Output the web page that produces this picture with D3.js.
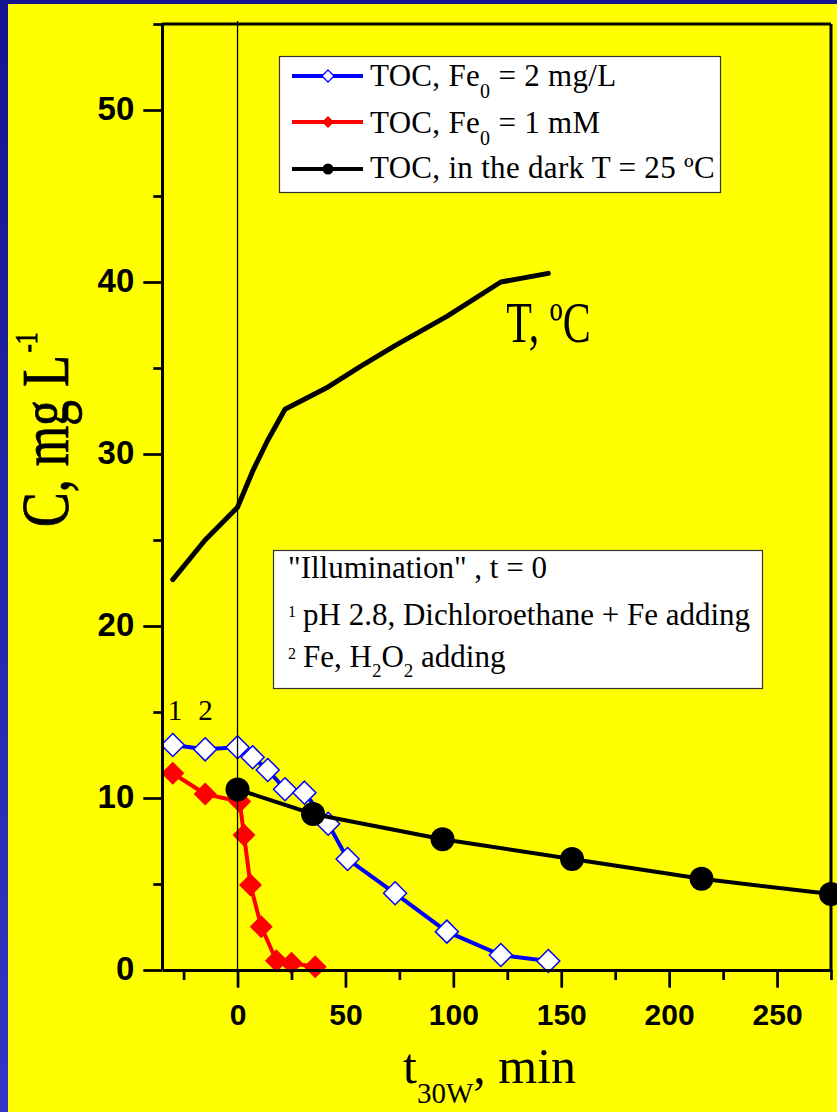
<!DOCTYPE html>
<html>
<head>
<meta charset="utf-8">
<script src="https://cdn.jsdelivr.net/npm/d3@7"></script>
<style>
  body { margin: 0; background: #fff; }
  svg { display: block; }
</style>
</head>
<body>
<svg width="837" height="1112"></svg>
<script>
const svg = d3.select('svg');
const width  = +svg.attr('width');
const height = +svg.attr('height');

// TOC, Fe0 = 2 mg/L  (open blue diamonds)
const blueTime = [-40, -30, -15, 0, 7, 14, 22, 31, 42, 51, 73, 97, 122, 144];
const blueToc  = [13.25, 13.08, 12.83, 12.95, 12.37, 11.63, 10.51, 10.31, 8.5, 6.45, 4.46, 2.23, 0.87, 0.52];

// TOC, Fe0 = 1 mM  (red diamonds)
const redTime = [-40, -30, -15, 1, 3, 6, 11, 18, 25, 36];
const redToc  = [11.5, 11.44, 10.23, 9.79, 7.85, 4.94, 2.52, 0.54, 0.39, 0.19];

// TOC in the dark, T = 25 C
const darkTime = [0, 35, 95, 155, 215, 275];
const darkToc  = [10.5, 9.07, 7.6, 6.45, 5.3, 4.42];

// temperature curve
const tempTime = [-30, -15, 0, 7, 14, 22, 42, 57, 73, 97, 122, 144];
const tempVal  = [22.7, 25.0, 26.9, 29.0, 30.8, 32.6, 33.9, 35.1, 36.3, 38.0, 40.0, 40.5];

const xTicks = [0, 50, 100, 150, 200, 250];
const xMinor = [-25, 25, 75, 125, 175, 225, 275];
const yTicks = [0, 10, 20, 30, 40, 50];
const yMinor = [5, 15, 25, 35, 45, 55];

const serif = "'Liberation Serif', 'Times New Roman', serif";
const sans  = "'Liberation Sans', Arial, sans-serif";

// background : blue frame + yellow
const grad = svg.append('defs').append('linearGradient')
  .attr('id', 'bg').attr('x1', 0).attr('y1', 0).attr('x2', 0).attr('y2', 1);
grad.append('stop').attr('offset', '0%').attr('stop-color', '#15158f');
grad.append('stop').attr('offset', '100%').attr('stop-color', '#3535c6');
svg.append('rect').attr('width', width).attr('height', height).attr('fill', 'url(#bg)');
svg.append('rect').attr('x', 8).attr('y', 4).attr('width', width - 8).attr('height', height - 4).attr('fill', '#ffff00');

//scales
const x = d3.scaleLinear().domain([-35, 275]).range([162, 831]);
const y = d3.scaleLinear().domain([0, 55]).range([970, 24]);

svg.select('defs').append('clipPath').attr('id', 'clip')
  .append('rect').attr('x', 162).attr('y', 0).attr('width', width - 162).attr('height', height);

const diamond = r => `M0,${-r}L${r},0L0,${r}L${-r},0Z`;
const line = d3.line().x(d => x(d[0])).y(d => y(d[1]));

const plot = svg.append('g').attr('clip-path', 'url(#clip)');

// T curve
plot.append('path').datum(d3.zip(tempTime, tempVal))
  .attr('d', line).attr('fill', 'none').attr('stroke', '#000')
  .attr('stroke-width', 5).attr('stroke-linecap', 'round').attr('stroke-linejoin', 'round');

// blue
const blue = d3.zip(blueTime, blueToc);
plot.append('path').datum(blue).attr('d', line)
  .attr('fill', 'none').attr('stroke', '#0000ff').attr('stroke-width', 4);
plot.selectAll('.blue').data(blue).enter().append('path')
  .attr('class', 'blue')
  .attr('transform', d => `translate(${x(d[0])},${y(d[1])})`)
  .attr('d', diamond(11.5)).attr('fill', '#fff').attr('stroke', '#0000ff').attr('stroke-width', 1.5);

// red
const red = d3.zip(redTime, redToc);
plot.append('path').datum(red).attr('d', line)
  .attr('fill', 'none').attr('stroke', '#ff0000').attr('stroke-width', 4);
plot.selectAll('.red').data(red).enter().append('path')
  .attr('class', 'red')
  .attr('transform', d => `translate(${x(d[0])},${y(d[1])})`)
  .attr('d', diamond(11.5)).attr('fill', '#ff0000');

// dark
const dark = d3.zip(darkTime, darkToc);
plot.append('path').datum(dark).attr('d', line)
  .attr('fill', 'none').attr('stroke', '#000').attr('stroke-width', 4);
plot.selectAll('.dark').data(dark).enter().append('circle')
  .attr('cx', d => x(d[0])).attr('cy', d => y(d[1])).attr('r', 12).attr('fill', '#000');

// t = 0 line
svg.append('line')
  .attr('x1', x(0)).attr('x2', x(0)).attr('y1', y(55) - 3).attr('y2', y(0))
  .attr('stroke', '#000').attr('stroke-width', 1.3);

// axes
const styleAxis = (sel, size) => {
  sel.select('.domain').attr('stroke-width', 3);
  sel.selectAll('.tick line').attr('stroke-width', 2.7);
  sel.selectAll('.tick text').attr('font-family', sans).attr('font-weight', 'bold')
    .attr('font-size', size).attr('fill', '#000');
};

svg.append('g').attr('transform', `translate(0,${y(0)})`)
  .call(d3.axisBottom(x).tickValues(xMinor).tickSize(10).tickFormat(''))
  .call(s => s.select('.domain').remove())
  .call(s => s.selectAll('.tick line').attr('stroke-width', 2.7));
svg.append('g').attr('transform', `translate(${x(-35)},0)`)
  .call(d3.axisLeft(y).tickValues(yMinor).tickSize(8.7).tickFormat(''))
  .call(s => s.select('.domain').remove())
  .call(s => s.selectAll('.tick line').attr('stroke-width', 2.7));

svg.append('g').attr('transform', `translate(0,${y(0)})`)
  .call(d3.axisBottom(x).tickValues(xTicks).tickSize(17.7).tickSizeOuter(0).tickPadding(16))
  .call(s => styleAxis(s, 30));
svg.append('g').attr('transform', `translate(${x(-35)},0)`)
  .call(d3.axisLeft(y).tickValues(yTicks).tickSize(18.7).tickSizeOuter(0).tickPadding(9))
  .call(s => styleAxis(s, 33))
  .call(s => s.selectAll('.tick text').attr('dy', '0.29em'));

// frame top + right
svg.append('line').attr('x1', x(-35)).attr('x2', x(275)).attr('y1', y(55)).attr('y2', y(55))
  .attr('stroke', '#000').attr('stroke-width', 3);
svg.append('line').attr('x1', x(275)).attr('x2', x(275)).attr('y1', y(55)).attr('y2', y(0))
  .attr('stroke', '#000').attr('stroke-width', 3);

// axis titles
const xt = svg.append('text').attr('x', 403).attr('y', 1083)
  .attr('font-family', serif).attr('font-size', 50).attr('fill', '#000');
xt.append('tspan').text('t');
xt.append('tspan').attr('font-size', 29).attr('dy', 20).text('30W');
xt.append('tspan').attr('dy', -20).text(', min');

const yt = svg.append('text').attr('transform', 'translate(68,527) rotate(-90) scale(1,1.3)')
  .attr('font-family', serif).attr('font-size', 52).attr('fill', '#000')
  .attr('stroke', '#000').attr('stroke-width', 0.6);
yt.append('tspan').text('C, mg L');
yt.append('tspan').attr('font-size', 24).attr('dy', -24).attr('dx', 3).text('-1');

// T label
svg.append('text').attr('transform', `translate(${x(124.5)},${y(36.5)}) scale(1,1.35)`)
  .attr('font-family', serif).attr('font-size', 42).attr('fill', '#000')
  .text('T, ºC');

// 1, 2 marks
const marks = ['1', '2'];
const markTime = [-29, -14.8];
svg.selectAll('.mark').data(marks).enter().append('text')
  .attr('x', (d, i) => x(markTime[i])).attr('y', y(14.56))
  .attr('text-anchor', 'middle')
  .attr('font-family', serif).attr('font-size', 29).attr('fill', '#000')
  .text(d => d);

// legend
const leg = svg.append('g');
leg.append('rect').attr('x', 279.5).attr('y', 56.5).attr('width', 441).attr('height', 136)
  .attr('fill', '#fff').attr('stroke', '#333').attr('stroke-width', 1.2);

const legRows = [76, 122, 169];
const legColor = ['#0000ff', '#ff0000', '#000'];
legRows.forEach((ry, i) => {
  leg.append('line').attr('x1', 292).attr('x2', 363).attr('y1', ry).attr('y2', ry)
    .attr('stroke', legColor[i]).attr('stroke-width', 4);
});
leg.append('path').attr('transform', `translate(328,${legRows[0]})`).attr('d', diamond(6))
  .attr('fill', '#fff').attr('stroke', '#0000ff').attr('stroke-width', 1.3);
leg.append('path').attr('transform', `translate(328,${legRows[1]})`).attr('d', diamond(6))
  .attr('fill', '#ff0000');
leg.append('circle').attr('cx', 328).attr('cy', legRows[2]).attr('r', 5.5).attr('fill', '#000');

const legText = (yy) => leg.append('text').attr('x', 370).attr('y', yy)
  .attr('font-family', serif).attr('font-size', 31).attr('letter-spacing', 0.3).attr('fill', '#000');
let t1 = legText(86);
t1.append('tspan').text('TOC, Fe');
t1.append('tspan').attr('font-size', 20).attr('dy', 12).text('0');
t1.append('tspan').attr('dy', -12).text(' = 2 mg/L');
let t2 = legText(133);
t2.append('tspan').text('TOC, Fe');
t2.append('tspan').attr('font-size', 20).attr('dy', 12).text('0');
t2.append('tspan').attr('dy', -12).text(' = 1 mM');
legText(178).text('TOC, in the dark T = 25 ºC');

// note box
const note = svg.append('g');
note.append('rect').attr('x', 273.5).attr('y', 550.5).attr('width', 489).attr('height', 138)
  .attr('fill', '#fff').attr('stroke', '#333').attr('stroke-width', 1.2);
const noteText = (xx, yy, fs) => note.append('text').attr('x', xx).attr('y', yy)
  .attr('font-family', serif).attr('font-size', fs).attr('fill', '#000');

noteText(288, 578, 31).text('"Illumination" , t = 0');
noteText(288, 617, 16).text('1');
noteText(303, 625, 31).text('pH 2.8, Dichloroethane + Fe adding');
noteText(288, 659, 16).text('2');
let n3 = noteText(303, 667, 31);
n3.append('tspan').text('Fe, H');
n3.append('tspan').attr('font-size', 19).attr('dy', 10).text('2');
n3.append('tspan').attr('dy', -10).text('O');
n3.append('tspan').attr('font-size', 19).attr('dy', 10).text('2');
n3.append('tspan').attr('dy', -10).text(' adding');
</script>
</body>
</html>
